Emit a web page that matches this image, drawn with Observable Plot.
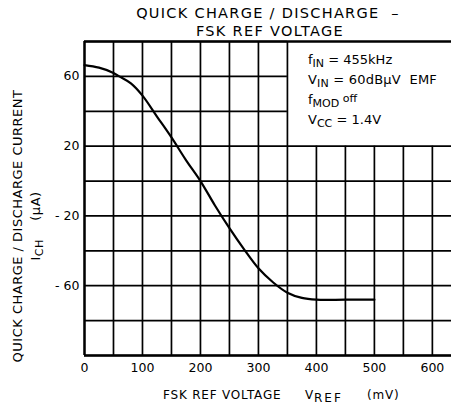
<!DOCTYPE html>
<html>
<head>
<meta charset="utf-8">
<script src="https://cdn.jsdelivr.net/npm/d3@7"></script>
<script src="https://cdn.jsdelivr.net/npm/@observablehq/plot@0.6"></script>
<style>
  html, body { margin: 0; padding: 0; background: #fff; }
  svg text { font-family: "DejaVu Sans", sans-serif; }
</style>
</head>
<body>
<div id="chart"></div>
<script>
// Curve: FSK reference voltage (mV) vs quick charge/discharge current (µA)
const vref = [0, 25, 50, 60, 80, 100, 125, 150, 175, 200, 225, 250, 275, 300, 325, 350, 375, 400, 450, 500];
const ich  = [66.5, 65, 62, 60, 56, 49, 37, 25, 12, 0, -14, -27, -39, -50, -58, -64, -67, -68, -68, -68];

const xTicks = [0, 100, 200, 300, 400, 500, 600];
const yTicks = [60, 20, -20, -60];
const xGrid = [0, 50, 100, 150, 200, 250, 300, 350, 400, 450, 500, 550, 600];
const yGrid = [80, 60, 40, 20, 0, -20, -40, -60, -80, -100];
const xDomain = [0, 633];
const yDomain = [-100, 80];
// annotation box region (grid omitted): x beyond 350, y above 20
const boxX = 350, boxY = 20;

const data = vref.map((v, i) => ({v, i: ich[i]}));

const plot = Plot.plot({
  width: 451,
  height: 412,
  marginTop: 41,
  marginBottom: 57,
  marginLeft: 84,
  marginRight: 0,
  style: {fontFamily: "'DejaVu Sans', sans-serif", fontSize: "12.5px", color: "#000", background: "#fff"},
  x: {domain: xDomain, ticks: xTicks, tickSize: 0, tickPadding: 8, label: null},
  y: {domain: yDomain, ticks: yTicks, tickSize: 0, tickPadding: 5, label: null,
      tickFormat: d => d < 0 ? "- " + (-d) : String(d)},
  marks: [
    Plot.ruleX(xGrid, {x: d => d, y1: yDomain[0], y2: d => d > boxX ? boxY : yDomain[1], stroke: "#000", strokeWidth: 1.7}),
    Plot.ruleY(yGrid, {y: d => d, x1: xDomain[0], x2: d => d > boxY ? boxX : xDomain[1], stroke: "#000", strokeWidth: 1.7}),
    Plot.ruleX([xDomain[0]], {stroke: "#000", strokeWidth: 2.3}),
    Plot.ruleY([yDomain[1], yDomain[0]], {stroke: "#000", strokeWidth: 2.3}),
    Plot.line(data, {x: "v", y: "i", curve: "catmull-rom", stroke: "#000", strokeWidth: 2.2})
  ]
});
document.getElementById("chart").appendChild(plot);

const svg = d3.select(plot);
svg.selectAll("g[aria-label='y-axis tick label'] text, g[aria-label='x-axis tick label'] text")
  .style("font-size", "12.5px");

function addText(x, y, parts, opts = {}) {
  const size = opts.size || 12;
  const subF = opts.subF || 0.85;
  const t = svg.append("text")
    .attr("x", x).attr("y", y)
    .attr("text-anchor", opts.anchor || "start")
    .attr("font-size", size)
    .attr("fill", "#000");
  if (opts.spacing) t.attr("letter-spacing", opts.spacing);
  if (opts.transform) t.attr("transform", opts.transform).attr("x", 0).attr("y", 0);
  let shifted = 0;
  parts.forEach(p => {
    const s = t.append("tspan").text(p.t);
    const want = p.sub ? 3 : (p.sup ? -2 : 0);
    if (want !== shifted) { s.attr("dy", want - shifted); shifted = want; }
    if (p.sub || p.sup) s.attr("font-size", size * subF);
    if (p.ls != null) s.attr("letter-spacing", p.ls);
  });
  return t;
}

// Title (one text element, two lines)
const title = svg.append("text")
  .attr("text-anchor", "middle").attr("font-size", 14.5).attr("letter-spacing", 1.3).attr("fill", "#000");
title.append("tspan").attr("x", 268).attr("y", 18).text("QUICK CHARGE / DISCHARGE  –");
title.append("tspan").attr("x", 270).attr("y", 35.5).text("FSK REF VOLTAGE");

// X axis label
addText(163, 399, [{t: "FSK REF VOLTAGE"}], {size: 12, spacing: 0.8});
addText(305, 399, [{t: "V"}, {t: "REF", sub: true, ls: 2}], {size: 12, spacing: 0.8, subF: 1});
addText(367, 399, [{t: "(mV)"}], {size: 12, spacing: 0.8});

// Y axis label
addText(0, 0, [{t: "QUICK CHARGE / DISCHARGE CURRENT"}], {anchor: "middle", size: 13, spacing: 0.5, transform: "translate(22,226) rotate(-90)"});
addText(0, 0, [{t: "I"}, {t: "CH", sub: true}, {t: "    (μA)"}], {anchor: "middle", size: 13, spacing: 0.5, transform: "translate(40,226) rotate(-90)"});

// Annotations
addText(308, 64, [{t: "f"}, {t: "IN", sub: true}, {t: " = 455kHz"}], {size: 13});
addText(308, 84, [{t: "V"}, {t: "IN", sub: true}, {t: " = 60dBμV  EMF"}], {size: 13, spacing: 0.2});
addText(308, 104, [{t: "f"}, {t: "MOD", sub: true}, {t: " off", sup: true}], {size: 13});
addText(308, 124, [{t: "V"}, {t: "CC", sub: true}, {t: " = 1.4V"}], {size: 13});
</script>
</body>
</html>
